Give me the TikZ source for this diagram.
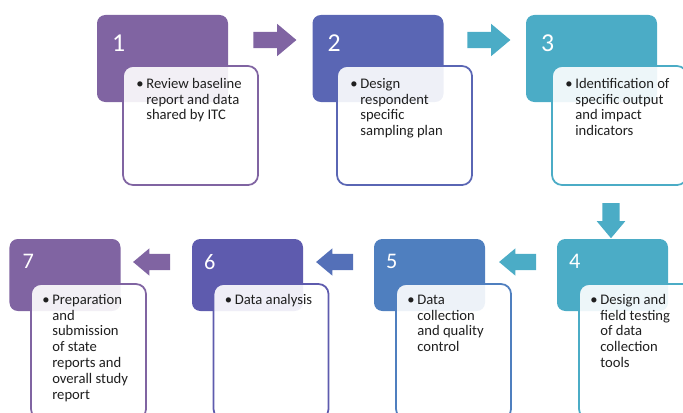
\documentclass[tikz,border=0pt]{standalone}
\usepackage{fontspec}
\setmainfont{Carlito}
\usetikzlibrary{shapes.arrows,calc}

\definecolor{stepviolet}{HTML}{8064A2}
\definecolor{stepindigo}{HTML}{5A66B4}
\definecolor{stepaqua}{HTML}{4BACC6}
\definecolor{stepblue}{HTML}{4F7FBF}
\definecolor{stepiris}{HTML}{5E5BAE}
\definecolor{arrowblue}{HTML}{5470B8}

\newcommand{\stepitem}[1]{\makebox[8.5pt][l]{\textbullet}\begin{tabular}[t]{@{}l@{}}#1\end{tabular}}

\begin{document}
\begin{tikzpicture}[
  x=0.3mm,y=-0.3mm,
  stagetop/.style={rounded corners=2.5mm,minimum width=39.3mm,minimum height=26.1mm,inner sep=0},
  stagelow/.style={rounded corners=2.5mm,minimum width=33.3mm,minimum height=21.6mm,inner sep=0},
  notetop/.style={draw,line width=1.5pt,rounded corners=3mm,fill=white,fill opacity=0.9,minimum width=40.5mm,minimum height=35.7mm,inner sep=0},
  notelow/.style={draw,line width=1.5pt,rounded corners=3mm,fill=white,fill opacity=0.9,minimum width=34.5mm,minimum height=40.5mm,inner sep=0},
  numtop/.style={text=white,font=\fontsize{22}{22}\selectfont,inner sep=0,anchor=west},
  numlow/.style={text=white,font=\fontsize{19}{19}\selectfont,inner sep=0,anchor=west},
  item/.style={font=\fontsize{12.5}{13.6}\selectfont,text=black!88,inner sep=0,anchor=base west},
  flowtop/.style={single arrow,single arrow head extend=2.4mm,single arrow tip angle=80,inner sep=0,text height=4.8mm,text depth=0mm,minimum height=12.9mm},
  flowlow/.style={single arrow,single arrow head extend=1.65mm,single arrow tip angle=80,inner sep=0,text height=4.8mm,text depth=0mm,minimum height=11.1mm}
]
  \clip (0,0) rectangle (683,412);

  % top row
  \node[stagetop,fill=stepviolet] (c1) at (162.5,58.5) {};
  \node[stagetop,fill=stepindigo] (c2) at (378,58.5) {};
  \node[stagetop,fill=stepaqua] (c3) at (591.5,58.5) {};
  \node[numtop] (n1) at ($(c1.north west)+(15,28)$) {1};
  \node[numtop] (n2) at ($(c2.north west)+(15,28)$) {2};
  \node[numtop] (n3) at ($(c3.north west)+(15,28)$) {3};
  \node[notetop,draw=stepviolet] (w1) at (190.5,125.5) {};
  \node[notetop,draw=stepindigo] (w2) at (404.5,125.5) {};
  \node[notetop,draw=stepaqua] (w3) at (619.5,125.5) {};
  \node[item] (t1) at ($(w1.north west)+(14,23)$) {\stepitem{Review baseline\\report and data\\shared by ITC}};
  \node[item] (t2) at ($(w2.north west)+(14,23)$) {\stepitem{Design\\respondent\\specific\\sampling plan}};
  \node[item] (t3) at ($(w3.north west)+(14,23)$) {\stepitem{Identification of\\specific output\\and impact\\indicators}};

  % bottom row
  \node[stagelow,fill=stepaqua] (c4) at (612.5,275) {};
  \node[stagelow,fill=stepblue] (c5) at (429.5,275) {};
  \node[stagelow,fill=stepiris] (c6) at (247.5,275) {};
  \node[stagelow,fill=stepviolet] (c7) at (65,275) {};
  \node[numlow] (n4) at ($(c4.north west)+(12,23)$) {4};
  \node[numlow] (n5) at ($(c5.north west)+(12,23)$) {5};
  \node[numlow] (n6) at ($(c6.north west)+(12,23)$) {6};
  \node[numlow] (n7) at ($(c7.north west)+(13,23)$) {7};
  \node[notelow,draw=stepaqua] (w4) at (636.5,351.5) {};
  \node[notelow,draw=stepblue] (w5) at (453.5,351.5) {};
  \node[notelow,draw=stepiris] (w6) at (271,351.5) {};
  \node[notelow,draw=stepviolet] (w7) at (88.5,351.5) {};
  \node[item] (t4) at ($(w4.north west)+(12,21)$) {\stepitem{Design and\\field testing\\of data\\collection\\tools}};
  \node[item] (t5) at ($(w5.north west)+(12,21)$) {\stepitem{Data\\collection\\and quality\\control}};
  \node[item] (t6) at ($(w6.north west)+(12,21)$) {\stepitem{Data analysis}};
  \node[item] (t7) at ($(w7.north west)+(12,21)$) {\stepitem{Preparation\\and\\submission\\of state\\reports and\\overall study\\report}};

  % block arrows
  \node[flowtop,fill=stepviolet] (a12) at (270,40) {};
  \node[flowtop,fill=stepaqua] (a23) at (484,40) {};
  \node[flowlow,fill=stepaqua,text height=0mm,text width=5.1mm,minimum height=10.5mm,shape border rotate=270] (a34) at (611,215.5) {};
  \node[flowlow,fill=stepaqua,shape border rotate=180] (a45) at (522.5,262) {};
  \node[flowlow,fill=arrowblue,shape border rotate=180] (a56) at (339.5,262) {};
  \node[flowlow,fill=stepviolet,shape border rotate=180] (a67) at (156.5,262) {};
\end{tikzpicture}
\end{document}
